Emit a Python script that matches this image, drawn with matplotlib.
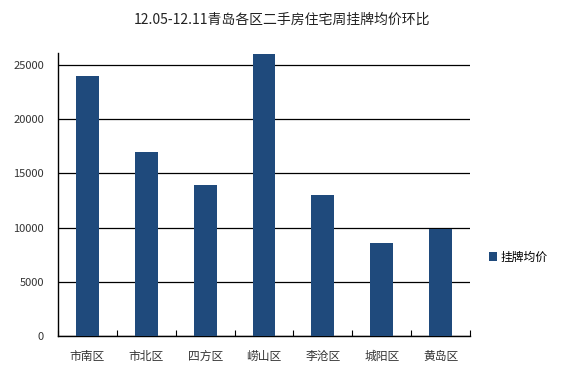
import matplotlib
matplotlib.use("Agg")
import matplotlib.pyplot as plt
import numpy as np

plt.rcParams['font.family'] = ['Noto Sans CJK SC', 'DejaVu Sans']

categories = ['市南区', '市北区', '四方区', '崂山区', '李沧区', '城阳区', '黄岛区']
values = [24000, 17000, 13900, 26000, 13000, 8550, 9850]
yticks = [0, 5000, 10000, 15000, 20000, 25000]
series_name = '挂牌均价'
title = '12.05-12.11青岛各区二手房住宅周挂牌均价环比'

fig = plt.figure(figsize=(5.65, 3.77), dpi=100)
ax = fig.add_axes([58/565, 1-336/377, (470-58)/565, (336-53)/377])

x = np.arange(len(categories))
ax.bar(x, values, width=0.39, color='#1F4A7C', label=series_name, zorder=3)
ax.set_xlim(-0.5, len(categories) - 0.5)
ax.set_ylim(0, 26100)
ax.set_yticks(yticks)
ax.set_yticklabels([str(v) for v in yticks], fontsize=8, color='#333333')
ax.yaxis.grid(True, color='black', linewidth=0.9, zorder=0)
ax.tick_params(axis='y', length=0, pad=10)
ax.set_xticks(x)
ax.set_xticklabels(categories, fontsize=8.5, color='#333333')
ax.set_xticks(np.arange(len(categories) + 1) - 0.5, minor=True)
ax.tick_params(axis='x', which='major', length=0, pad=10)
ax.tick_params(axis='x', which='minor', length=4, direction='in', width=0.8)
for s in ['top', 'right']:
    ax.spines[s].set_visible(False)
for s in ['left', 'bottom']:
    ax.spines[s].set_linewidth(1.0)
    ax.spines[s].set_color('black')

fig.text(282/565, 1-20/377, title, ha='center', va='center', fontsize=10, color='#222222')
leg = fig.legend(loc='center left', bbox_to_anchor=(478/565, 1-257/377), frameon=False,
                 fontsize=8.5, handlelength=0.7, handleheight=0.7, handletextpad=0.3)

fig.savefig('out.png', dpi=100, facecolor='white')
